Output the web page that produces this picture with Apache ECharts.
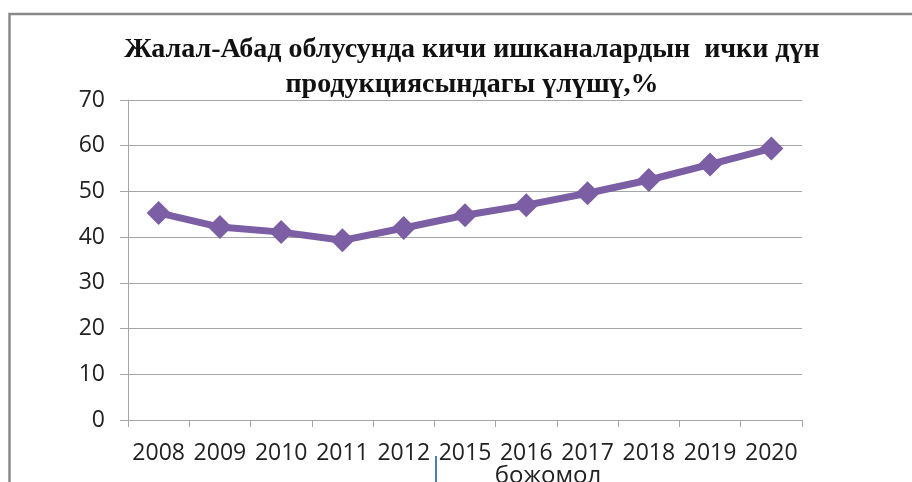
<!DOCTYPE html>
<html>
<head>
<meta charset="utf-8">
<script src="https://cdn.jsdelivr.net/npm/echarts@6/dist/echarts.min.js"></script>
<style>html,body{margin:0;padding:0;background:#fff;}#c{width:912px;height:482px;}</style>
</head>
<body>
<div id="c"></div>
<script>
var titleLines = ['Жалал-Абад облусунда кичи ишканалардын  ички дүн', 'продукциясындагы үлүшү,%'];
var categories = ['2008','2009','2010','2011','2012','2015','2016','2017','2018','2019','2020'];
var shareValues = [45.3, 42.2, 41.1, 39.3, 42.0, 44.8, 47.0, 49.6, 52.5, 55.9, 59.4];
var yTicks = {min: 0, max: 70, interval: 10};
var forecastLabel = 'божомол';

var chart = echarts.init(document.getElementById('c'), null, {renderer: 'canvas'});
chart.setOption({
  animation: false,
  backgroundColor: '#fff',
  title: {
    text: titleLines.join('\n'),
    left: 467,
    top: 27,
    textAlign: 'center',
    textStyle: {
      fontFamily: 'Liberation Serif',
      fontWeight: 'bold',
      fontSize: 28,
      lineHeight: 35,
      color: '#111'
    }
  },
  grid: {left: 128, right: 110, top: 100, bottom: 62, containLabel: false},
  xAxis: {
    type: 'category',
    data: categories,
    boundaryGap: true,
    axisLine: {show: true, lineStyle: {color: '#a6a6a6', width: 1}},
    axisTick: {show: true, length: 7, lineStyle: {color: '#a6a6a6'}},
    axisLabel: {fontFamily: 'Open Sans', fontSize: 23, color: '#222', margin: 22, interval: 0}
  },
  yAxis: {
    type: 'value',
    min: yTicks.min, max: yTicks.max, interval: yTicks.interval,
    axisLine: {show: true, lineStyle: {color: '#a6a6a6', width: 1}},
    axisTick: {show: true, length: 8, lineStyle: {color: '#a6a6a6'}},
    axisLabel: {fontFamily: 'Open Sans', fontSize: 23, color: '#222', margin: 23},
    splitLine: {show: true, lineStyle: {color: '#a6a6a6', width: 1}}
  },
  series: [{
    type: 'line',
    data: shareValues,
    symbol: 'diamond',
    symbolSize: 24,
    itemStyle: {color: '#7b5ea3'},
    lineStyle: {color: '#7b5ea3', width: 7}
  }],
  graphic: [
    {type: 'polyline', shape: {points: [[9.5, 482], [9.5, 14], [912, 14]]}, style: {stroke: '#8a8a8a', lineWidth: 2.5, fill: null}},
    {type: 'line', shape: {x1: 436, y1: 456, x2: 436, y2: 482}, style: {stroke: '#4a7ebb', lineWidth: 2}},
    {type: 'text', style: {x: 548, y: 464, text: forecastLabel, font: '24px "Open Sans"', fill: '#222', textAlign: 'center'}}
  ]
});
</script>
</body>
</html>
